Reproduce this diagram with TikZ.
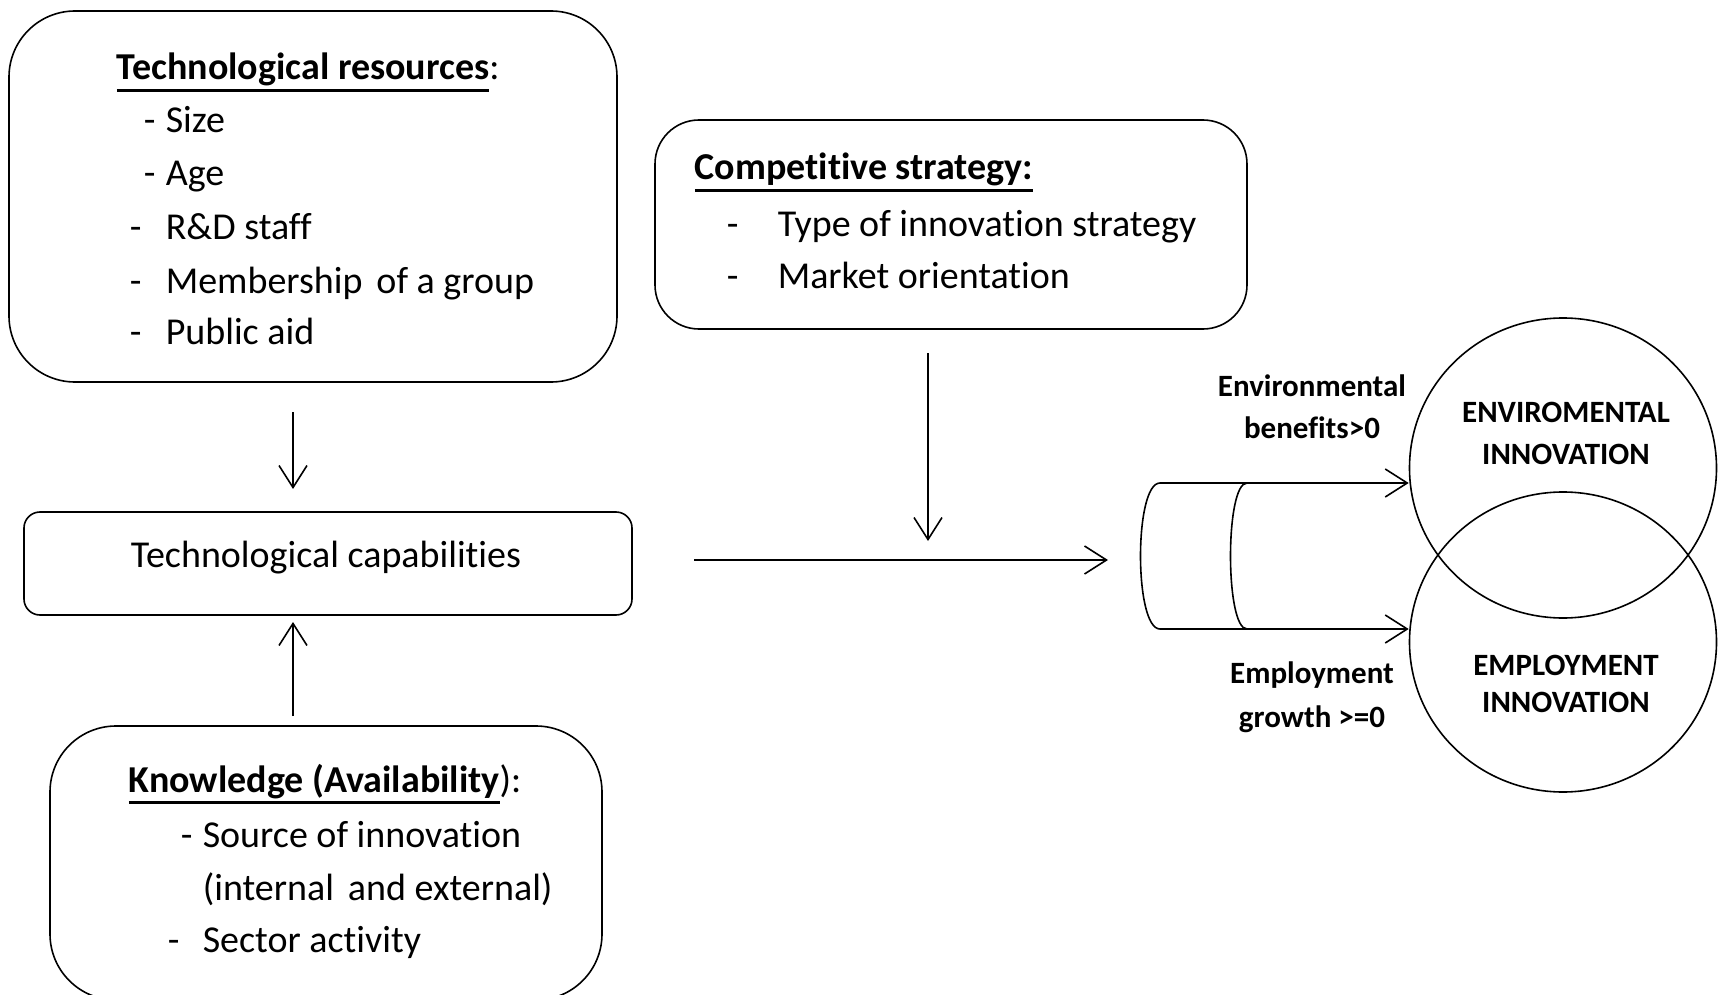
\documentclass[tikz,border=0pt]{standalone}
\usepackage{fontspec}
\setmainfont{Carlito}[Ligatures=NoCommon]
\usetikzlibrary{arrows.meta,shapes.geometric}

% heading underline: a thick rule set below the descenders
\newsavebox\ulbox
\newcommand\ulc[1]{\sbox\ulbox{#1}\rlap{\rule[-6pt]{\wd\ulbox}{1.6pt}}\usebox\ulbox}

\begin{document}
\begin{tikzpicture}[x=0.5pt,y=-0.5pt,line width=0.8pt,
  rbox/.style={draw,rounded corners=33pt,inner sep=0pt},
  arr/.style={-{Straight Barb[length=11pt,width=14pt]}},
  txt/.style={anchor=base west,inner sep=0pt,font=\fontsize{19}{22}\selectfont},
  lbl/.style={align=center,inner sep=0pt,font=\bfseries\fontsize{15.5}{21}\selectfont}]

\useasboundingbox (0,0) rectangle (1720,995);

% technological resources
\node[rbox,minimum width=304pt,minimum height=185.5pt] (res) at (313,196.5) {};
\node[txt] (resh) at (116,80) {\ulc{\bfseries Technological resources}:};
\node[txt] (r1) at (143,133) {\makebox[11pt][l]{-}Size};
\node[txt] (r2) at (143,185) {\makebox[11pt][l]{-}Age};
\node[txt] (r3) at (129,239) {\makebox[18pt][l]{-}R\&D staff};
\node[txt] (r4) at (129,293) {\makebox[18pt][l]{-}Membership\hspace{7pt}of a group};
\node[txt] (r5) at (129,344) {\makebox[18pt][l]{-}Public aid};

% technological capabilities
\node[draw,rounded corners=8pt,minimum width=304pt,minimum height=51.5pt] (cap) at (328,563.5) {};
\node[inner sep=0pt,font=\fontsize{19}{22}\selectfont] (capt) at (326,558) {Technological capabilities};

% knowledge
\node[rbox,minimum width=276pt,minimum height=137pt] (kno) at (326,863) {};
\node[txt] (knoh) at (128,792) {\ulc{\bfseries Knowledge (Availability}):};
\node[txt] (k1) at (180,847) {\makebox[11pt][l]{-}Source of innovation};
\node[txt] (k2) at (202,900) {(internal\hspace{7pt}and external)};
\node[txt] (k3) at (167,952) {\makebox[17.5pt][l]{-}Sector activity};

% competitive strategy
\node[rbox,rounded corners=22pt,minimum width=296pt,minimum height=104.5pt] (comp) at (951,224.5) {};
\node[txt] (comph) at (694,180) {\ulc{\bfseries Competitive strategy:}};
\node[txt] (c1) at (726,236) {\makebox[25.5pt][l]{-}Type of innovation strategy};
\node[txt] (c2) at (726,288) {\makebox[25.5pt][l]{-}Market orientation};

% outcome circles
\node[draw,ellipse,minimum width=153.5pt,minimum height=150pt,inner sep=0pt] (envc) at (1563,468) {};
\node[draw,ellipse,minimum width=153.5pt,minimum height=150pt,inner sep=0pt] (empc) at (1563,642) {};
\node[lbl] (envt) at (1566,433) {ENVIROMENTAL\\INNOVATION};
\node[lbl,font=\bfseries\fontsize{15.5}{18.5}\selectfont] (empt) at (1566,684) {EMPLOYMENT\\INNOVATION};
\node[lbl] (envl) at (1312,407) {Environmental\\benefits>0};
\node[lbl,font=\bfseries\fontsize{15.5}{22}\selectfont] (empl) at (1312,697) {Employment\\growth >=0};

% vertical arrows
\coordinate (a1s) at (293,412); \coordinate (a1e) at (293,489);
\coordinate (a2s) at (293,716); \coordinate (a2e) at (293,622);
\coordinate (a3s) at (928,353); \coordinate (a3e) at (928,541);
\draw[arr] (a1s) -- (a1e);
\draw[arr] (a2s) -- (a2e);
\draw[arr] (a3s) -- (a3e);

% horizontal arrow
\coordinate (ms) at (694,560); \coordinate (me) at (1108,560);
\draw[arr] (ms) -- (me);

% cylinder
\coordinate (cyltl) at (1160,483); \coordinate (cylbl) at (1160,629);
\coordinate (cylit) at (1247,483); \coordinate (cylib) at (1247,629);
\draw (cyltl) .. controls (1134,483) and (1134,629) .. (cylbl);
\draw (cylit) .. controls (1225,483) and (1225,629) .. (cylib);
\draw[arr] (cyltl) -- (cyltl -| envc.west);
\draw[arr] (cylbl) -- (cylbl -| empc.west);

\end{tikzpicture}
\end{document}
